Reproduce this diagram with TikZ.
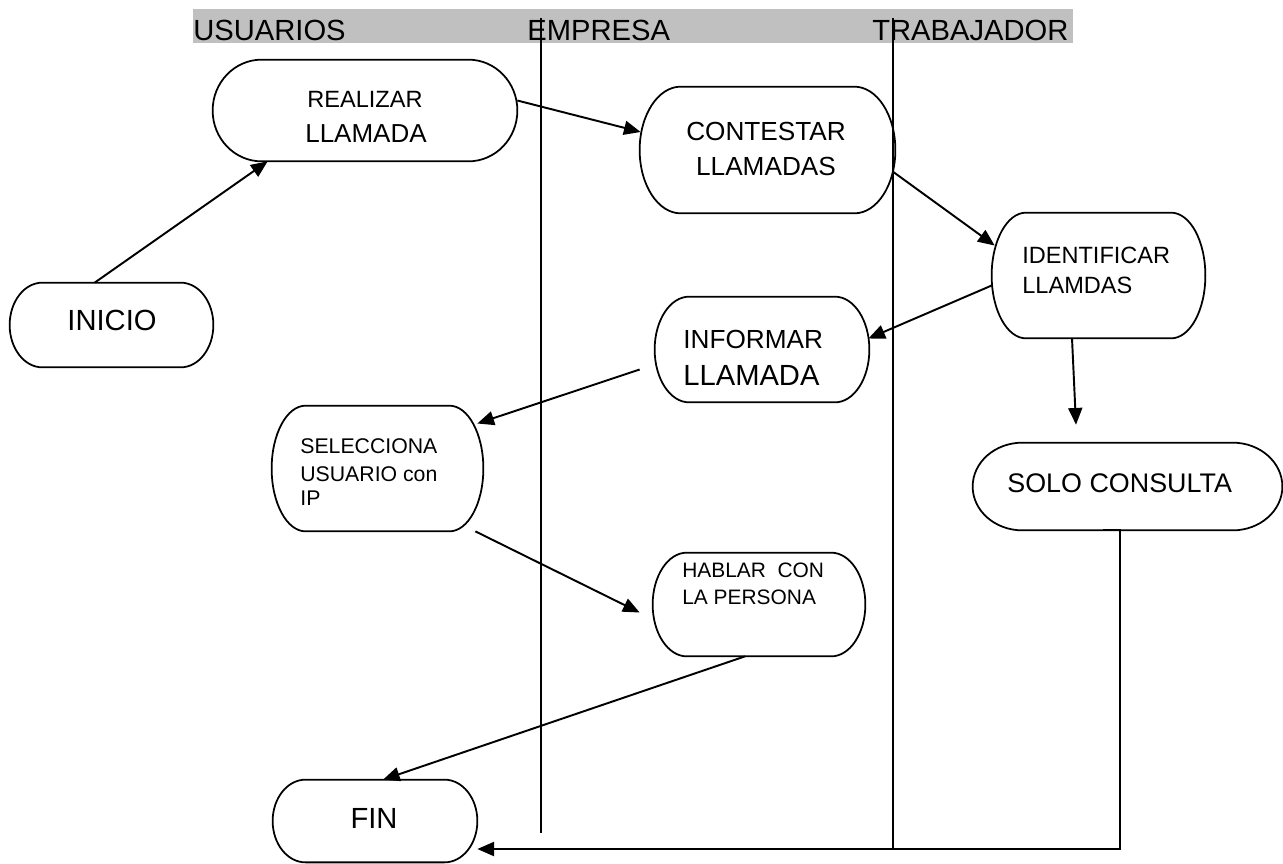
\documentclass[tikz,border=0pt]{standalone}
\usepackage{fontspec}
\setmainfont{Liberation Sans}
\usetikzlibrary{arrows.meta,calc,fit}
\definecolor{bandgray}{HTML}{C0C0C0}
\tikzset{
  box/.style={inner sep=0pt, draw=none},
  flow/.style={line width=1.1pt, -{Triangle[length=9.5pt,width=8pt]}},
  lane/.style={line width=1.1pt},
  outline/.style={line width=1pt},
  lbl/.style={inner sep=0pt, anchor=base west},
  clbl/.style={inner sep=0pt, anchor=base},
}
\newcommand\fs[1]{\fontsize{#1}{#1}\selectfont}
% terminator outline: straight top/bottom, elliptic sides
\newcommand\terminator[1]{%
  \draw[outline] let \p1=(#1.north west), \p2=(#1.south east),
    \n1={0.1606*(\x2-\x1)}, \n2={(\y1-\y2)/2} in
    ({\x1+\n1*1pt},\y1) -- ({\x2-\n1*1pt},\y1)
    arc[start angle=90, end angle=-90, x radius={\n1*1pt}, y radius={\n2*1pt}]
    -- ({\x1+\n1*1pt},\y2)
    arc[start angle=270, end angle=90, x radius={\n1*1pt}, y radius={\n2*1pt}]
    -- cycle;}
\begin{document}
\begin{tikzpicture}[x=0.02cm,y=-0.02cm]
\useasboundingbox (0,0) rectangle (1283,863);

% swimlane headings
\fill[bandgray] (193,9) rectangle (1073,43);
\node[lbl] (h-usu) at (193,40) {\fs{16.6}USUARIOS};
\node[lbl] (h-emp) at (527,40) {\fs{16.6}EMPRESA};
\node[lbl] (h-tra) at (872,40) {\fs{16.6}TRABAJADOR};

% lane dividers
\draw[lane] (541,18) -- (541,833);
\draw[lane] (893,18) -- (893,848);

% process boxes
\node[box, fit={(213,60) (517,161)}] (realizar) {};
\node[box, fit={(640,87) (895,213)}] (contestar) {};
\node[box, fit={(992,213) (1205,338)}] (identificar) {};
\node[box, fit={(10,283) (213,367)}] (inicio) {};
\node[box, fit={(655,297) (869,402)}] (informar) {};
\node[box, fit={(272,406) (483,531)}] (selecciona) {};
\node[box, fit={(653,553) (865,656)}] (hablar) {};
\node[box, fit={(973,443) (1282,530)}] (solo) {};
\node[box, fit={(273,780) (477,862)}] (fin) {};
\foreach \b in {realizar,contestar,identificar,inicio,informar,selecciona,hablar,solo,fin}
  {\terminator{\b}}

% box texts
\node[clbl] (t-real1) at (365,107) {\fs{13.4}REALIZAR};
\node[clbl] (t-real2) at (366,142) {\fs{14.8}LLAMADA};
\node[clbl] (t-cont1) at (766,140) {\fs{14.9}CONTESTAR};
\node[clbl] (t-cont2) at (766,175) {\fs{14.9}LLAMADAS};
\node[lbl] (t-iden1) at (1022,263) {\fs{13.4}IDENTIFICAR};
\node[lbl] (t-iden2) at (1022,293) {\fs{13.4}LLAMDAS};
\node[clbl] (t-ini) at (112,330) {\fs{16.6}INICIO};
\node[lbl] (t-info1) at (683,348) {\fs{14.9}INFORMAR};
\node[lbl] (t-info2) at (683,385) {\fs{16.6}LLAMADA};
\node[lbl] (t-sel1) at (300,453) {\fs{12.1}SELECCIONA};
\node[lbl] (t-sel2) at (300,481) {\fs{12.1}USUARIO con};
\node[lbl] (t-sel3) at (300,505) {\fs{12.1}IP};
\node[lbl] (t-hab1) at (682,577) {\fs{11.9}HABLAR\ \ CON};
\node[lbl] (t-hab2) at (682,604) {\fs{11.9}LA PERSONA};
\node[lbl] (t-solo) at (1007,492) {\fs{15.3}SOLO CONSULTA};
\node[clbl] (t-fin) at (374,828) {\fs{16.6}FIN};

% free ends of connectors
\coordinate (consulta-in) at ($(solo.north)+(-51.5,-18)$);
\coordinate (informar-out) at ($(informar.west)+(-15,20)$);
\coordinate (hablar-in) at ($(hablar.west)+(-13,8)$);

% connectors
\draw[flow] ($(inicio.north west)+(85,0)$) -- ($(realizar.south west)+(55,0)$);
\draw[flow] ($(realizar.east)+(0,-10)$) -- ($(contestar.west)+(1,-18)$);
\draw[flow] ($(contestar.east)+(-2,22)$) -- ($(identificar.west)+(3,-30)$);
\draw[flow] ($(identificar.west)+(0,10)$) -- ($(informar.east)+(-1,-11)$);
\draw[flow] ($(identificar.south)+(-26.5,0)$) -- (consulta-in);
\draw[flow] (informar-out) -- ($(selecciona.east)+(-6,-45)$);
\draw[flow] ($(selecciona.south east)+(-8,0)$) -- (hablar-in);
\draw[flow] ($(hablar.south)+(-14,0)$) -- ($(fin.north)+(8,0)$);
\draw[flow] ($(solo.south)+(-24.5,0)$) -- ($(solo.south)+(-7.5,0)$)
  |- ($(fin.east)+(0,28)$);
\end{tikzpicture}
\end{document}
